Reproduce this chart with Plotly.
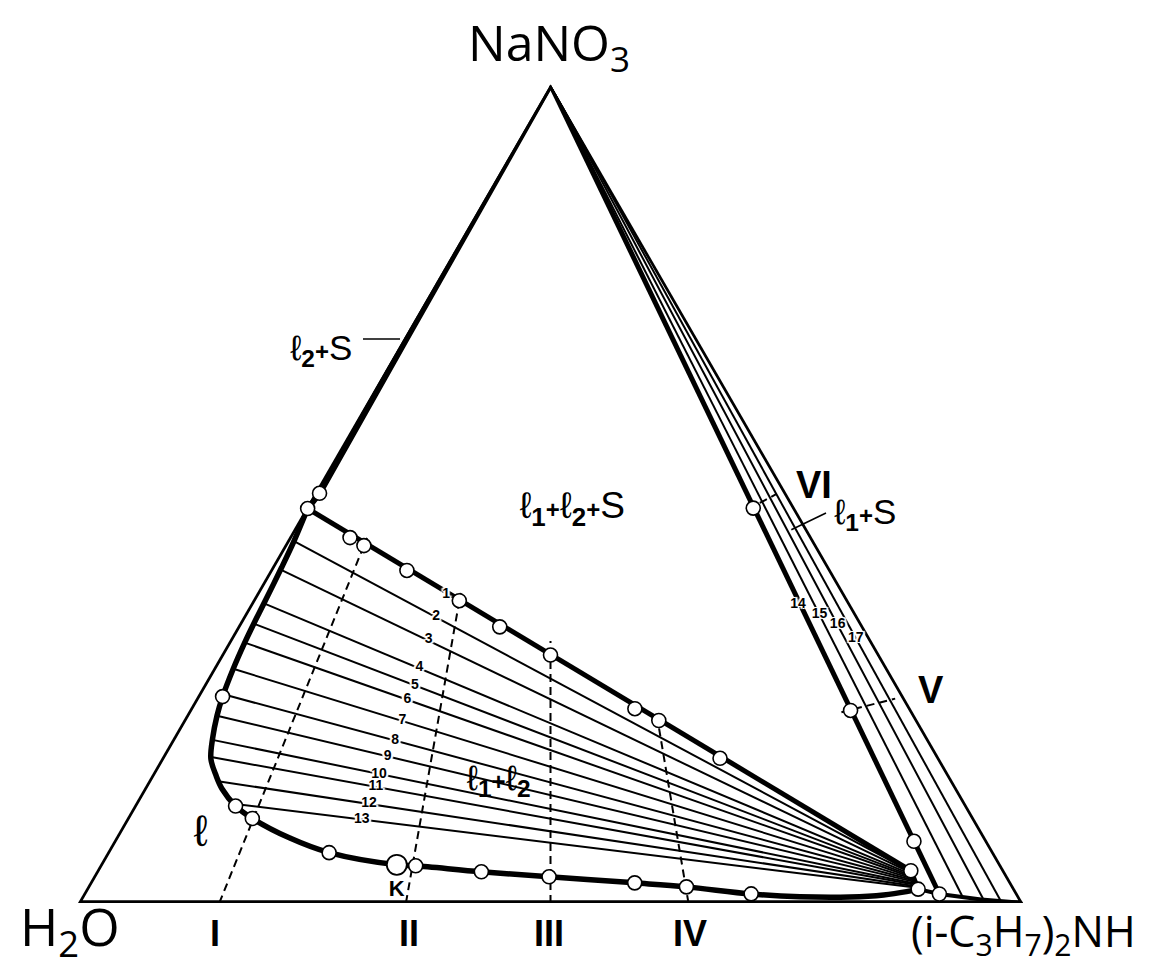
import plotly.graph_objects as go

# compositions in mass %: a = NaNO3, c = (i-C3H7)2NH, water = 100 - a - c

# binodal curve, from the l2 corner of the l1+l2+S triangle round to the l1 side
binodal_nano3 = [48.2, 44.28, 40.96, 36.65, 34.19, 31.73, 28.66, 25.22, 22.88, 20.05, 17.59,
                 15.54, 13.90, 11.85, 10.33, 7.96, 6.15, 4.67, 4.55, 3.81, 3.20, 2.46, 1.97,
                 1.11, 0.77, 0.74, 0.98, 1.39, 1.69]
binodal_amine = [0.2, 0.74, 1.05, 1.37, 1.53, 1.74, 2.11, 2.69, 3.27, 4.21, 5.27,
                 6.85, 8.32, 10.75, 13.28, 18.38, 23.50, 31.40, 33.46, 40.78, 48.25, 57.68, 63.40,
                 70.68, 76.02, 81.30, 84.76, 86.98, 88.06]

# short l1 branch up to the l1 corner, and the l1 + S solubility curve
l1_branch_nano3 = [1.69, 3.94]
l1_branch_amine = [88.06, 86.16]
l1_sol_nano3 = [1.69, 1.1, 0.43, 0.0]
l1_sol_amine = [88.06, 90.6, 95.36, 100.0]

# l2 + S solubility curve along the water - NaNO3 side
l2_sol_nano3 = [100.0, 69.0, 50.06, 48.2]
l2_sol_amine = [0.0, 0.3, 0.53, 0.2]

# tie lines 1..13 (l2 end -> l1 end)
tie_l_nano3 = [48.2, 44.22, 40.74, 36.62, 34.13, 31.82, 28.62, 25.50, 22.88, 19.93, 17.84, 14.88, 12.14]
tie_l_amine = [0.2, 0.74, 1.07, 1.37, 1.53, 1.73, 2.11, 2.63, 3.27, 4.27, 5.16, 7.38, 10.33]
tie_r_nano3 = [3.94, 3.76, 3.59, 3.41, 3.23, 3.06, 2.89, 2.72, 2.55, 2.36, 2.19, 2.02, 1.85]
tie_r_amine = [86.16, 86.38, 86.52, 86.66, 86.80, 86.94, 87.08, 87.21, 87.35, 87.50, 87.64, 87.77, 87.91]

# tie lines 14..17 of the l1 + S field, from the NaNO3 corner
salt_tie_nano3 = [1.1, 0.62, 0.37, 0.18]
salt_tie_amine = [90.6, 93.36, 95.66, 97.59]

# tie line numbers
tie_labels = [str(i) for i in range(1, 18)]
tie_lab_nano3 = [37.68, 35.02, 32.14, 28.75, 26.61, 24.88, 22.26, 19.84, 17.90, 15.74, 14.18, 12.14,
                 10.21, 36.45, 35.22, 33.99, 32.35]
tie_lab_amine = [20.12, 20.38, 21.03, 21.74, 22.35, 22.42, 23.20, 23.64, 23.81, 23.99, 24.43, 24.73,
                 24.92, 57.96, 60.85, 63.39, 66.13]

# experimental points
pt_nano3 = [50.06, 48.2, 44.65, 43.67, 40.63, 36.94, 33.74, 30.30, 23.74, 22.30, 17.68, 3.94,
            25.22, 11.85, 10.33, 6.15, 4.55, 3.81, 3.20, 2.46, 1.97, 1.11, 1.69,
            48.25, 23.53, 7.54, 1.1]
pt_amine = [0.53, 0.2, 6.46, 8.42, 14.49, 21.88, 27.76, 34.85, 47.06, 50.31, 59.10, 86.16,
            2.69, 10.75, 13.28, 23.50, 33.46, 40.78, 48.25, 57.68, 63.40, 70.68, 88.06,
            47.33, 69.99, 84.69, 90.6]
critical_nano3 = [4.67]
critical_amine = [31.40]

# sections I..VI (dashed)
sections = ["I", "II", "III", "IV", "V", "VI"]
sec_start_nano3 = [0, 0, 0, 0, 23.31, 48.13]
sec_start_amine = [14.95, 34.7, 50.0, 64.6, 69.13, 46.87]
sec_end_nano3 = [44.6, 37.9, 32.0, 23.3, 24.97, 49.98]
sec_end_amine = [8.28, 21.55, 34.0, 49.55, 73.99, 48.94]

fig = go.Figure()


def add_line(a, c, width, dash="solid", shape="linear"):
    fig.add_trace(go.Scatterternary(
        a=a, c=c, mode="lines", cliponaxis=False, hoverinfo="skip",
        line=dict(color="black", width=width, dash=dash, shape=shape)))


# triangle
add_line([0, 0, 100, 0], [0, 100, 0, 0], 5.5)

# thin tie lines first, thick ones on top
for i in range(1, 13):
    add_line([tie_l_nano3[i], tie_r_nano3[i]], [tie_l_amine[i], tie_r_amine[i]], 2)
for i in range(1, 4):
    add_line([100, salt_tie_nano3[i]], [0, salt_tie_amine[i]], 2)

add_line([tie_l_nano3[0], tie_r_nano3[0]], [tie_l_amine[0], tie_r_amine[0]], 5)
add_line([100, salt_tie_nano3[0]], [0, salt_tie_amine[0]], 5)
add_line(l2_sol_nano3, l2_sol_amine, 6)
add_line(binodal_nano3, binodal_amine, 5.5, shape="spline")
add_line(l1_branch_nano3, l1_branch_amine, 5)
add_line(l1_sol_nano3, l1_sol_amine, 4)

for i in range(len(sections)):
    add_line([sec_start_nano3[i], sec_end_nano3[i]], [sec_start_amine[i], sec_end_amine[i]],
             2, dash="8px,5px")

# points
fig.add_trace(go.Scatterternary(
    a=pt_nano3, c=pt_amine, mode="markers", cliponaxis=False, hoverinfo="skip",
    marker=dict(size=14, color="white", line=dict(color="black", width=1.6))))
fig.add_trace(go.Scatterternary(
    a=critical_nano3, c=critical_amine, mode="markers", cliponaxis=False, hoverinfo="skip",
    marker=dict(size=20, color="white", line=dict(color="black", width=1.8))))

# tie line numbers
halo = ("white 1px 0px 0px, white -1px 0px 0px, white 0px 1px 0px, white 0px -1px 0px, "
        "white 2px 1px 1px, white -2px -1px 1px, white 2px -1px 1px, white -2px 1px 1px")
fig.add_trace(go.Scatterternary(
    a=tie_lab_nano3, c=tie_lab_amine, mode="text", text=tie_labels, cliponaxis=False,
    textposition="middle center", hoverinfo="skip",
    textfont=dict(family="Liberation Sans", size=14, color="black", weight="bold", shadow=halo)))

# field labels inside the triangle
sub1 = "<sub><b>1</b></sub>"
sub2 = "<sub><b>2</b></sub>"
plus = "<span style='font-size:24px'><b>+</b></span>"
field_text = ["ℓ" + sub1 + plus + "ℓ" + sub2 + plus + "S", "ℓ" + sub1 + plus + "ℓ" + sub2, "ℓ", "<b>K</b>"]
field_nano3 = [48.2, 14.91, 8.36, 1.54]
field_amine = [28.19, 37.05, 8.80, 32.95]
field_size = [37, 35, 44, 22]
for t, a, c, s in zip(field_text, field_nano3, field_amine, field_size):
    fig.add_trace(go.Scatterternary(
        a=[a], c=[c], mode="text", text=[t], cliponaxis=False, hoverinfo="skip",
        textposition="middle center",
        textfont=dict(family="Liberation Sans", size=s, color="black")))

W, H = 1149, 965
ann = []
big = dict(family="Open Sans", color="black")
ann.append(dict(text="NaNO<sub>3</sub>", x=541 / W, y=1 - 37 / H, font=dict(size=50, **big)))
ann.append(dict(text="H<sub>2</sub>O", x=62 / W, y=1 - 921 / H, font=dict(size=52, **big)))
ann.append(dict(text="(i-C<sub>3</sub>H<sub>7</sub>)<sub>2</sub>NH", x=901 / W, y=1 - 925 / H,
                xanchor="left", font=dict(size=43, **big)))
roman = dict(family="Liberation Sans", size=36, color="black", weight="bold")
for name, px in zip(sections[:4], [207, 401, 541, 682]):
    ann.append(dict(text=name, x=px / W, y=1 - 925.5 / H, font=roman))
ann.append(dict(text="V", x=923 / W, y=1 - 682 / H, font=dict(roman, size=38)))
ann.append(dict(text="VI", x=806 / W, y=1 - 477 / H, font=dict(roman, size=38)))
lab = dict(family="Liberation Sans", size=35, color="black")
ann.append(dict(text="ℓ" + sub1 + plus + "S", x=857 / W, y=1 - 506 / H, font=lab))
ann.append(dict(text="ℓ" + sub2 + plus + "S", x=313 / W, y=1 - 342 / H, font=lab))
for a_ in ann:
    a_.setdefault("xanchor", "center")
    a_.update(xref="paper", yref="paper", showarrow=False, yanchor="middle")

shapes = [
    dict(type="line", xref="paper", yref="paper", x0=818 / W, y0=1 - 505 / H,
         x1=783.3 / W, y1=1 - 521.7 / H, line=dict(color="black", width=1.6)),
    dict(type="line", xref="paper", yref="paper", x0=355 / W, y0=1 - 331 / H,
         x1=392 / W, y1=1 - 331 / H, line=dict(color="black", width=1.6)),
]

hidden = dict(showline=False, showgrid=False, showticklabels=False, ticks="", title=dict(text=""))
fig.update_layout(
    width=W, height=H,
    margin=dict(l=0, r=0, t=0, b=0),
    paper_bgcolor="white",
    showlegend=False,
    ternary=dict(
        sum=100,
        bgcolor="white",
        domain=dict(x=[70 / W, 1015 / W], y=[(H - 895) / H, (H - 76.6) / H]),
        aaxis=hidden, baxis=hidden, caxis=hidden,
    ),
    annotations=ann,
    shapes=shapes,
)

fig.write_html("out.html")
